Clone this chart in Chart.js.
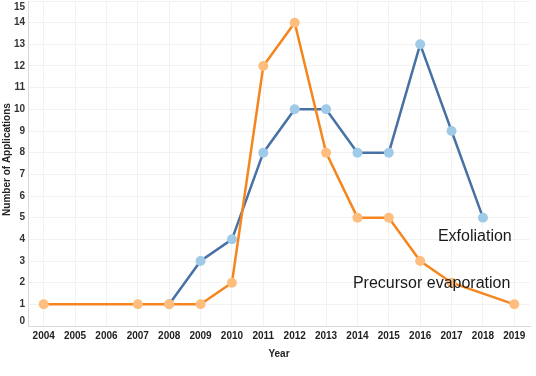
<!DOCTYPE html>
<html><head><meta charset="utf-8">
<script src="https://cdn.jsdelivr.net/npm/chart.js@4/dist/chart.umd.min.js"></script>
<style>html,body{margin:0;padding:0;background:#fff}#wrap{width:536px;height:376px}</style>
</head><body><div id="wrap"><canvas id="c" width="536" height="376"></canvas></div>
<script>
const years = ['2004','2005','2006','2007','2008','2009','2010','2011','2012','2013','2014','2015','2016','2017','2018','2019'];
const exfoliation = [null,null,null,null,1,3,4,8,10,10,8,8,13,9,5,null];
const precursorEvaporation = [1,null,null,1,1,1,2,12,14,8,5,5,3,2,null,1];
const yTicks = [0,1,2,3,4,5,6,7,8,9,10,11,12,13,14,15];
const seriesLabels = ['Exfoliation','Precursor evaporation'];

const overlay = {
  id:'overlay',
  afterDraw(chart){
    const ctx = chart.ctx, y = chart.scales.y, x = chart.scales.x, a = chart.chartArea;
    ctx.save();
    ctx.fillStyle = '#333';
    ctx.font = 'bold 10px "Liberation Sans", Arial, sans-serif';
    ctx.textAlign = 'right'; ctx.textBaseline = 'middle';
    yTicks.forEach(v=>{
      let p = y.getPixelForValue(v);
      p = Math.max(a.top+6, Math.min(a.bottom-5, p));
      ctx.fillText(String(v), 25, p);
    });
    ctx.save();
    ctx.translate(7, (a.top+a.bottom)/2 - 4);
    ctx.rotate(-Math.PI/2);
    ctx.textAlign='center'; ctx.textBaseline='middle';
    ctx.fillStyle = '#222';
    ctx.fillText('Number of Applications', 0, 0);
    ctx.restore();
    ctx.font = '16px "Liberation Sans", Arial, sans-serif';
    ctx.fillStyle = '#1a1a1a';
    ctx.textAlign='left'; ctx.textBaseline='alphabetic';
    ctx.fillText(seriesLabels[0], x.getPixelForValue(14)-45, y.getPixelForValue(4)+2);
    ctx.fillText(seriesLabels[1], x.getPixelForValue(14)-130, y.getPixelForValue(2)+5);
    ctx.restore();
  }
};

new Chart(document.getElementById('c'), {
  type:'line',
  data:{
    labels: years,
    datasets:[
      {label:seriesLabels[1], data:precursorEvaporation, borderColor:'#f5861f', backgroundColor:'#ffbe7d',
       pointBackgroundColor:'#ffbe7d', pointBorderWidth:0, pointRadius:5, borderWidth:2.5, spanGaps:true, tension:0},
      {label:seriesLabels[0], data:exfoliation, borderColor:'#4872a6', backgroundColor:'#a0cbe8',
       pointBackgroundColor:'#a0cbe8', pointBorderWidth:0, pointRadius:5, borderWidth:2.5, spanGaps:true, tension:0}
    ]
  },
  options:{
    responsive:false, animation:false,
    layout:{autoPadding:false, padding:{top:1,right:6,left:0,bottom:16}},
    plugins:{legend:{display:false}, tooltip:{enabled:false}},
    scales:{
      x:{
        offset:true,
        grid:{offset:false, color:'#f2f2f2', drawTicks:false},
        border:{color:'#d9d9d9'},
        ticks:{color:'#222', font:{family:'"Liberation Sans", Arial, sans-serif', size:10, weight:'bold'}, padding:4, maxRotation:0, autoSkip:false},
        title:{display:true, text:'Year', color:'#222', font:{family:'"Liberation Sans", Arial, sans-serif', size:10, weight:'bold'}, padding:{top:2,bottom:0}}
      },
      y:{
        min:0, max:15,
        afterFit(s){ s.width = 28; },
        ticks:{display:false, stepSize:1},
        grid:{color:'#f2f2f2', drawTicks:false},
        border:{color:'#d9d9d9'}
      }
    }
  },
  plugins:[overlay]
});
</script></body></html>
